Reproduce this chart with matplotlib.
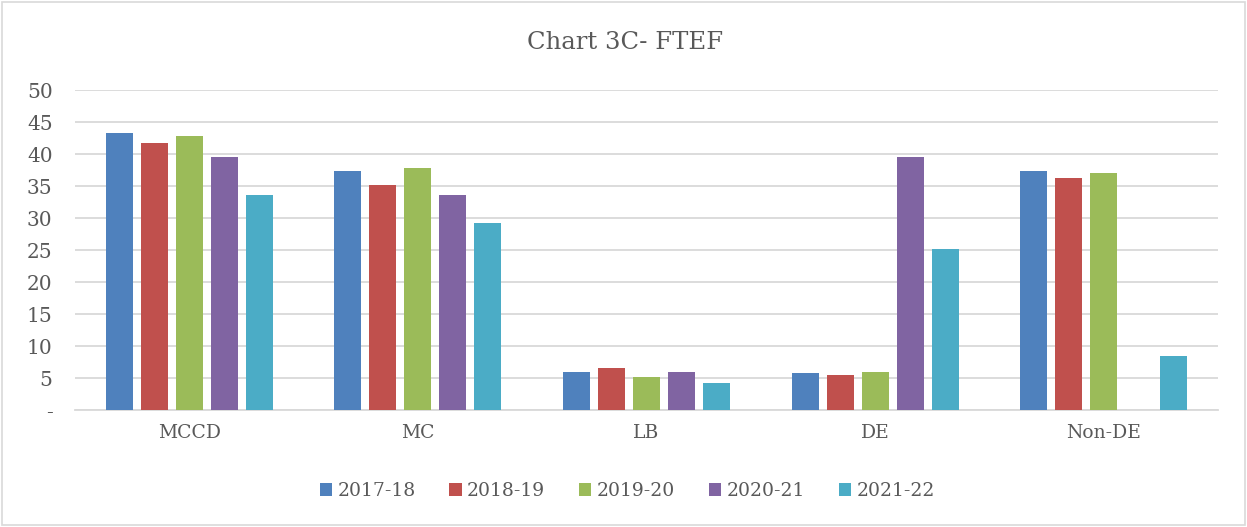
import numpy as np
import matplotlib
matplotlib.use("Agg")
from matplotlib import pyplot as plt
from matplotlib.patches import Rectangle

categories = ["MCCD", "MC", "LB", "DE", "Non-DE"]
years = ["2017-18", "2018-19", "2019-20", "2020-21", "2021-22"]
v2017 = [43.3, 37.4, 6.0, 5.8, 37.4]
v2018 = [41.7, 35.2, 6.6, 5.5, 36.3]
v2019 = [42.8, 37.8, 5.2, 5.9, 37.0]
v2020 = [39.5, 33.6, 6.0, 39.5, 0]
v2021 = [33.6, 29.2, 4.2, 25.2, 8.5]
yticks = [0, 5, 10, 15, 20, 25, 30, 35, 40, 45, 50]
ytick_labels = ["-", "5", "10", "15", "20", "25", "30", "35", "40", "45", "50"]

colors = ["#4F81BD", "#C0504D", "#9BBB59", "#8064A2", "#4BACC6"]
series = [v2017, v2018, v2019, v2020, v2021]

plt.rcParams["font.family"] = ["DejaVu Serif"]
txt = "#595959"

fig = plt.figure(figsize=(12.47, 5.27), dpi=100)
ax = fig.add_axes([0.060, 0.222, 0.917, 0.607])

x = np.arange(len(categories))
pitch = 0.153
for i, vals in enumerate(series):
    ax.bar(x + (i - 2) * pitch, vals, width=0.118, color=colors[i], label=years[i], zorder=3)

ax.set_xlim(-0.5, 4.5)
ax.set_ylim(0, 50)
ax.set_yticks(yticks)
ax.set_yticklabels(ytick_labels)
ax.set_xticks(x)
ax.set_xticklabels(categories)
ax.tick_params(axis="both", length=0, colors=txt)
ax.tick_params(axis="y", pad=16, labelsize=14.5)
ax.tick_params(axis="x", pad=10, labelsize=13.5)
for lab in ax.get_yticklabels():
    lab.set_horizontalalignment("right")
ax.grid(axis="y", color="#D9D9D9", linewidth=1.3, zorder=0)
for s in ["top", "right", "left"]:
    ax.spines[s].set_visible(False)
ax.spines["bottom"].set_color("#D9D9D9")
ax.spines["bottom"].set_linewidth(1.3)

fig.text(0.501, 0.92, "Chart 3C- FTEF", ha="center", va="center", fontsize=17.5, color=txt)

fig.legend(loc="center", bbox_to_anchor=(0.503, 0.068), ncol=5, frameon=False,
           fontsize=13.5, labelcolor=txt, handlelength=0.65, handleheight=0.65,
           handletextpad=0.3, columnspacing=1.8)

fig.patches.append(Rectangle((0.002, 0.004), 0.996, 0.992, transform=fig.transFigure,
                             fill=False, edgecolor="#D9D9D9", linewidth=1.2))

fig.savefig("out.png", dpi=100, facecolor="white")
